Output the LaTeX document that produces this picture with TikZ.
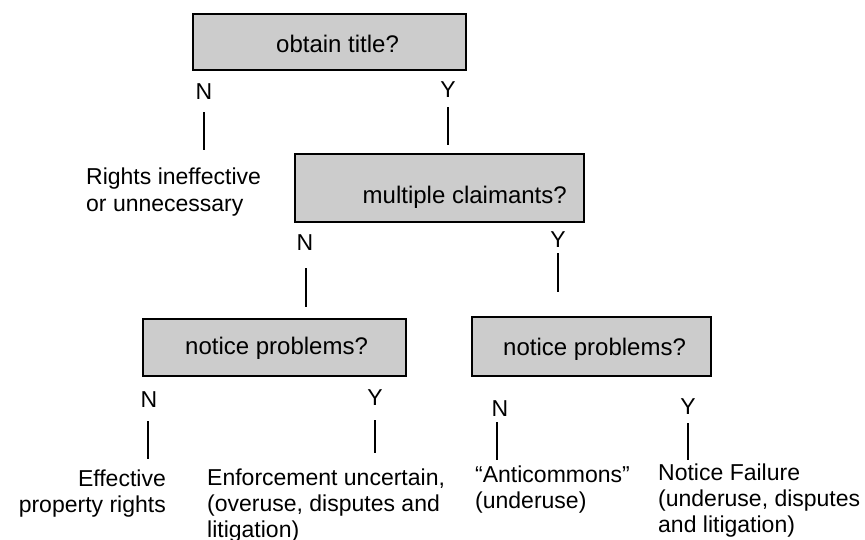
\documentclass[tikz,border=0pt]{standalone}
\usepackage{fontspec}
\setmainfont{Liberation Sans}
\begin{document}
\begin{tikzpicture}[x=1pt,y=-1pt,
  qbox/.style={draw=black, line width=1.6pt, fill=gray!40, rectangle, inner sep=0pt, anchor=north west},
  txt/.style={font=\fontsize{23}{26}\selectfont, inner sep=0pt},
  qtxt/.style={font=\fontsize{24}{27}\selectfont, inner sep=0pt},
  link/.style={line width=1.3pt}]
\useasboundingbox (0,0) rectangle (865,539);
% question boxes
\node[qbox, minimum width=273pt, minimum height=56pt] (b1) at (192,13) {};
\node[qtxt, anchor=base west] (b1t) at (276,52) {obtain title?};
\node[qbox, minimum width=289pt, minimum height=68pt] (b2) at (294,153) {};
\node[qtxt, anchor=base east] (b2t) at (567,203) {multiple claimants?};
\node[qbox, minimum width=263pt, minimum height=57pt] (b3) at (142,318) {};
\node[qtxt, anchor=base west] (b3t) at (185,354) {notice problems?};
\node[qbox, minimum width=239pt, minimum height=59pt] (b4) at (471,316) {};
\node[qtxt, anchor=base west] (b4t) at (503,355) {notice problems?};
% N / Y labels
\node[txt] (n1) at (204,92) {N};
\node[txt] (y1) at (448,90) {Y};
\node[txt] (n2) at (305,243) {N};
\node[txt] (y2) at (558,240) {Y};
\node[txt] (n3) at (149,400) {N};
\node[txt] (y3) at (375,398) {Y};
\node[txt] (n4) at (500,409) {N};
\node[txt] (y4) at (688,407) {Y};
% outcomes (anchor base = baseline of the last line)
\node[txt, font=\fontsize{23}{27}\selectfont, anchor=base west, align=left] (o1) at (86,211) {Rights ineffective\\or unnecessary};
\node[txt, anchor=base east, align=right] (o2) at (166,512) {Effective\\property rights};
\node[txt, anchor=base west, align=left] (o3) at (207,537) {Enforcement uncertain,\\(overuse, disputes and\\litigation)};
\node[txt, anchor=base west, align=left] (o4) at (475,508) {“Anticommons”\\(underuse)};
\node[txt, anchor=base west, align=left] (o5) at (658,532) {Notice Failure\\(underuse, disputes\\and litigation)};
% connector stubs
\coordinate (n1a) at (204,112); \coordinate (n1b) at (204,150);
\coordinate (y1a) at (448,107); \coordinate (y1b) at (448,145);
\coordinate (n2a) at (306,268); \coordinate (n2b) at (306,307);
\coordinate (y2a) at (558,253); \coordinate (y2b) at (558,292);
\coordinate (n3a) at (148,421); \coordinate (n3b) at (148,459);
\coordinate (y3a) at (375,420); \coordinate (y3b) at (375,453);
\coordinate (n4a) at (497,422); \coordinate (n4b) at (497,460);
\coordinate (y4a) at (688,423); \coordinate (y4b) at (688,460);
\draw[link] (n1a) -- (n1b);
\draw[link] (y1a) -- (y1b);
\draw[link] (n2a) -- (n2b);
\draw[link] (y2a) -- (y2b);
\draw[link] (n3a) -- (n3b);
\draw[link] (y3a) -- (y3b);
\draw[link] (n4a) -- (n4b);
\draw[link] (y4a) -- (y4b);
\end{tikzpicture}
\end{document}
